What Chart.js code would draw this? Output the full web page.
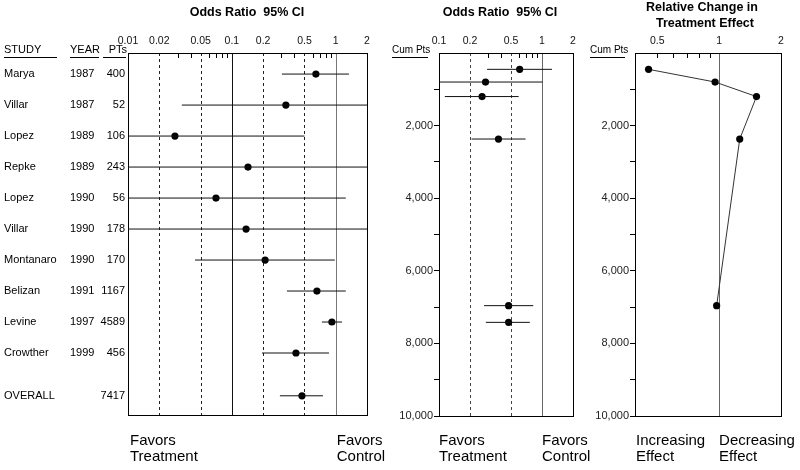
<!DOCTYPE html>
<html>
<head>
<meta charset="utf-8">
<script src="https://cdn.jsdelivr.net/npm/chart.js@4"></script>
<style>
body { margin: 0; background: #fff; }
#wrap { position: relative; width: 800px; height: 470px; }
canvas { position: absolute; left: 0; top: 0; }
</style>
</head>
<body>
<div id="wrap">
  <canvas id="chart1" width="800" height="470"></canvas>
  <canvas id="chart2" width="800" height="470"></canvas>
  <canvas id="chart3" width="800" height="470"></canvas>
</div>
<script>
// individual trials
const studies = ['Marya', 'Villar', 'Lopez', 'Repke', 'Lopez', 'Villar', 'Montanaro', 'Belizan', 'Levine', 'Crowther', 'OVERALL']
const years = ['1987', '1987', '1989', '1989', '1990', '1990', '1990', '1991', '1997', '1999', '']
const patients = ['400', '52', '106', '243', '56', '178', '170', '1167', '4589', '456', '7417']
const rowPos = [0, 1, 2, 3, 4, 5, 6, 7, 8, 9, 10.38]
const oddsRatio = [0.644, 0.331, 0.0283, 0.143, 0.0703, 0.137, 0.209, 0.659, 0.918, 0.414, 0.473]
const ciLow = [0.303, 0.033, 0.01, 0.01, 0.01, 0.01, 0.0442, 0.339, 0.736, 0.195, 0.290]
const ciHigh = [1.34, 2, 0.5, 2, 1.25, 2, 0.98, 1.25, 1.15, 0.861, 0.753]

// cumulative meta-analysis
const cumPts = [450, 800, 1200, 2370, 6960, 7420]
const cumOR = [0.607, 0.283, 0.262, 0.378, 0.474, 0.474]
const cumLow = [0.293, 0.1, 0.114, 0.207, 0.274, 0.285]
const cumHigh = [1.25, 1.01, 0.593, 0.693, 0.822, 0.762]

// relative change in treatment effect
const relPts = [450, 800, 1200, 2370, 6960]
const relChange = [0.454, 0.956, 1.52, 1.26, 0.973]

// axis ticks
const orLabels1 = [0.01, 0.02, 0.05, 0.1, 0.2, 0.5, 1, 2]
const orMinor1 = [0.03, 0.04, 0.06, 0.07, 0.08, 0.09, 0.3, 0.4, 0.6, 0.7, 0.8, 0.9]
const orLabels2 = [0.1, 0.2, 0.5, 1, 2]
const orMinor2 = [0.3, 0.4, 0.6, 0.7, 0.8, 0.9]
const relLabels = [0.5, 1, 2]
const relMinor = [0.5, 0.6, 0.7, 0.8, 0.9]

const FONT = "'Liberation Sans', Arial, sans-serif"
Chart.defaults.font.family = FONT
Chart.defaults.color = '#000'

function drawText(ctx, s, x, y, size, align, bold) {
    ctx.font = (bold ? 'bold ' : '') + size + 'px ' + FONT
    ctx.textAlign = align || 'left'
    ctx.textBaseline = 'middle'
    ctx.fillStyle = '#000'
    ctx.fillText(s, x, y)
}

function underline(ctx, x1, x2, y) {
    ctx.strokeStyle = '#000'
    ctx.lineWidth = 1
    ctx.beginPath()
    ctx.moveTo(x1, y + 0.5)
    ctx.lineTo(x2, y + 0.5)
    ctx.stroke()
}

function twoLines(ctx, a, b, x, size) {
    drawText(ctx, a, x, 441, size)
    drawText(ctx, b, x, 457, size)
}

function makeDecor(minor, lines, drawLabels) {
    return {
        id: 'decor',
        beforeDatasetsDraw(chart) {
            const { ctx, chartArea: a, scales: { x } } = chart
            ctx.save()
            ctx.lineWidth = 1
            ctx.strokeStyle = '#000'
            minor.forEach(v => {
                const px = Math.round(x.getPixelForValue(v)) + 0.5
                ctx.beginPath(); ctx.moveTo(px, a.top); ctx.lineTo(px, a.top + 5); ctx.stroke()
            })
            lines.forEach(l => {
                const px = Math.round(x.getPixelForValue(l.value)) + 0.5
                ctx.strokeStyle = l.color
                ctx.setLineDash(l.dash || [])
                ctx.beginPath(); ctx.moveTo(px, a.top); ctx.lineTo(px, a.bottom); ctx.stroke()
            })
            ctx.setLineDash([])
            ctx.strokeStyle = '#000'
            ctx.strokeRect(Math.round(a.left) + 0.5, Math.round(a.top) + 0.5, Math.round(a.width), Math.round(a.height))
            ctx.restore()
        },
        afterDraw(chart) {
            chart.ctx.save()
            drawLabels(chart)
            chart.ctx.restore()
        }
    }
}

// top odds-ratio axis; its box is the strip above the plot (0..53)
function orAxis(min, max, labels, minor) {
    const vals = [...new Set([...labels, ...minor])].sort((a, b) => a - b)
    return {
        type: 'logarithmic', position: 'top', min: min, max: max,
        afterBuildTicks: s => { s.ticks = vals.map(v => ({ value: v })) },
        afterFit: s => { s.height = 53 },
        grid: { display: false }, border: { display: false },
        ticks: {
            autoSkip: false, maxRotation: 0, padding: -2, color: '#111', font: { size: 10.5 },
            callback: v => labels.includes(v) ? String(v) : ''
        }
    }
}

const cumAxis = {
    type: 'linear', position: 'left', reverse: true, min: 0, max: 10000,
    afterFit: s => { s.width = 50 },
    grid: { drawOnChartArea: false, tickLength: 5, color: c => c.tick && c.tick.value === 0 ? 'rgba(0,0,0,0)' : '#000' },
    border: { display: false },
    ticks: {
        stepSize: 1000, autoSkip: false, padding: 1, color: '#222', font: { size: 11 },
        callback: v => v > 0 && v % 2000 === 0 ? v.toLocaleString('en-US') : ''
    }
}

function commonOptions(padding, scales) {
    return {
        responsive: false, animation: false, events: [],
        layout: { padding: padding },
        plugins: { legend: { display: false }, tooltip: { enabled: false } },
        scales: scales
    }
}

function ciSets(low, high, ys) {
    return low.map((v, i) => ({
        data: [{ x: v, y: ys[i] }, { x: high[i], y: ys[i] }],
        showLine: true, borderColor: '#111', borderWidth: 1, pointRadius: 0
    }))
}

function dotSet(xs, ys) {
    return {
        data: xs.map((v, i) => ({ x: v, y: ys[i] })),
        pointRadius: 3.6, pointBackgroundColor: '#000', pointBorderWidth: 0, showLine: false
    }
}


// panel 1: individual trials
new Chart('chart1', {
    type: 'scatter',
    data: { datasets: [...ciSets(ciLow, ciHigh, rowPos), dotSet(oddsRatio, rowPos)] },
    options: commonOptions({ left: 128, right: 433, top: 0, bottom: 55 }, {
        x: orAxis(0.01, 2, orLabels1, orMinor1),
        y: { display: false, reverse: true, min: -0.68, max: 11 }
    }),
    plugins: [makeDecor(orMinor1, [
        { value: 0.02, color: '#222', dash: [3, 3] },
        { value: 0.05, color: '#222', dash: [3, 3] },
        { value: 0.1, color: '#111' },
        { value: 0.2, color: '#222', dash: [3, 3] },
        { value: 0.5, color: '#222', dash: [3, 3] },
        { value: 1, color: '#777' }
    ], chart => {
        const { ctx, scales: { x, y } } = chart
        drawText(ctx, 'Odds Ratio  95% CI', 247, 13, 12.5, 'center', true)
        drawText(ctx, 'STUDY', 4, 50, 11)
        drawText(ctx, 'YEAR', 70, 50, 11)
        drawText(ctx, 'PTs', 127, 50, 11, 'right')
        underline(ctx, 4, 57, 57)
        underline(ctx, 70, 99, 57)
        underline(ctx, 103, 126, 57)
        studies.forEach((s, i) => {
            const py = y.getPixelForValue(rowPos[i])
            drawText(ctx, s, 4, py, 11)
            drawText(ctx, years[i], 70, py, 11)
            drawText(ctx, patients[i], 125, py, 11, 'right')
        })
        twoLines(ctx, 'Favors', 'Treatment', x.getPixelForValue(0.01) + 2, 15)
        twoLines(ctx, 'Favors', 'Control', x.getPixelForValue(1) + 1, 15)
    })]
})


// panel 2: cumulative odds ratio
new Chart('chart2', {
    type: 'scatter',
    data: { datasets: [...ciSets(cumLow, cumHigh, cumPts), dotSet(cumOR, cumPts)] },
    options: commonOptions({ left: 389, right: 227, top: 0, bottom: 54 }, {
        x: orAxis(0.1, 2, orLabels2, orMinor2),
        y: cumAxis
    }),
    plugins: [makeDecor(orMinor2, [
        { value: 0.2, color: '#444', dash: [3, 3] },
        { value: 0.5, color: '#444', dash: [3, 3] },
        { value: 1, color: '#666' }
    ], chart => {
        const { ctx, scales: { x } } = chart
        drawText(ctx, 'Odds Ratio  95% CI', 500, 13, 12.5, 'center', true)
        drawText(ctx, 'Cum Pts', 392, 50, 10)
        underline(ctx, 392, 428, 57)
        twoLines(ctx, 'Favors', 'Treatment', x.getPixelForValue(0.1), 15)
        twoLines(ctx, 'Favors', 'Control', x.getPixelForValue(1), 15)
    })]
})


// panel 3: relative change
new Chart('chart3', {
    type: 'scatter',
    data: {
        datasets: [{
            data: relChange.map((v, i) => ({ x: v, y: relPts[i] })),
            showLine: true, borderColor: '#333', borderWidth: 1,
            pointRadius: 3.6, pointBackgroundColor: '#000', pointBorderWidth: 0
        }]
    },
    options: commonOptions({ left: 585, right: 19, top: 0, bottom: 54 }, {
        x: orAxis(0.39, 2, relLabels, relMinor),
        y: cumAxis
    }),
    plugins: [makeDecor(relMinor, [
        { value: 1, color: '#666' }
    ], chart => {
        const { ctx, scales: { x } } = chart
        drawText(ctx, 'Relative Change in', 702, 8, 12.5, 'center', true)
        drawText(ctx, 'Treatment Effect', 705, 24, 12.5, 'center', true)
        drawText(ctx, 'Cum Pts', 590, 50, 10)
        underline(ctx, 590, 625, 57)
        twoLines(ctx, 'Increasing', 'Effect', x.getPixelForValue(0.39) + 1, 15)
        twoLines(ctx, 'Decreasing', 'Effect', x.getPixelForValue(1), 15)
    })]
})
</script>
</body>
</html>
